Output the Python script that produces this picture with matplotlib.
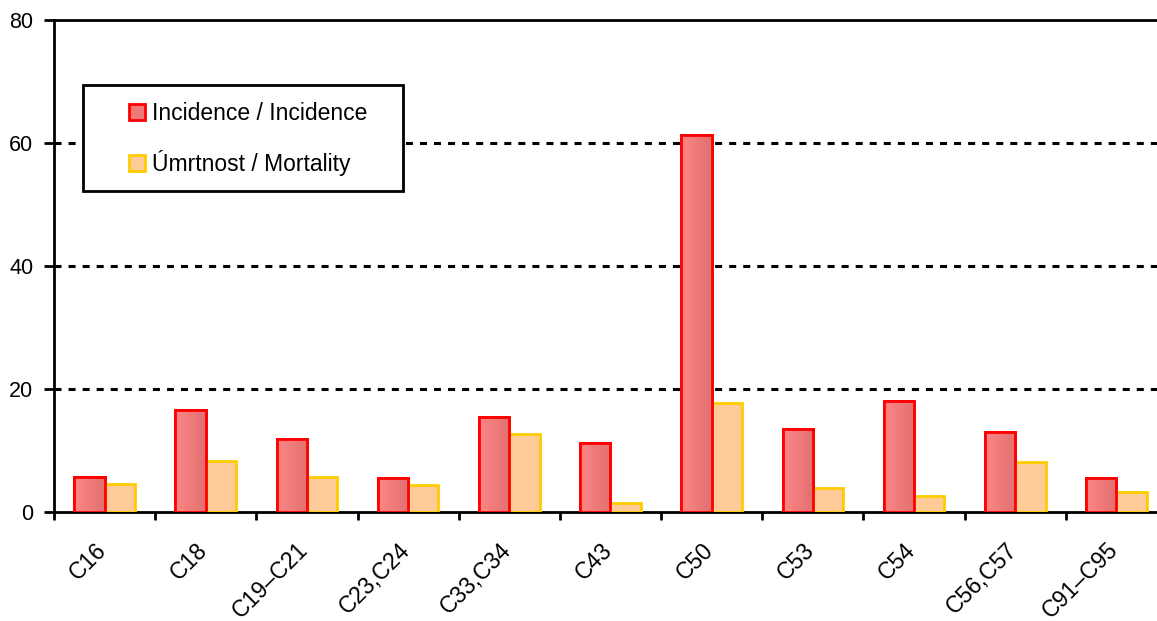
"""Incidence vs mortality bar chart."""

import matplotlib.pyplot as plt
import numpy as np
from matplotlib.patches import Rectangle

plt.rcParams["font.family"] = ["Liberation Sans", "DejaVu Sans"]

categories = ["C16", "C18", "C19–C21", "C23,C24", "C33,C34", "C43",
              "C50", "C53", "C54", "C56,C57", "C91–C95"]
incidence = [5.7, 16.6, 11.9, 5.5, 15.4, 11.3, 61.3, 13.5, 18.0, 13.0, 5.6]
mortality = [4.5, 8.3, 5.7, 4.4, 12.7, 1.4, 17.7, 3.85, 2.65, 8.2, 3.3]
labels = ["Incidence / Incidence", "Úmrtnost / Mortality"]

W, H = 1157, 621
fig = plt.figure(figsize=(W / 100, H / 100), dpi=100)
ax = fig.add_axes([54 / W, 1 - 512 / H, 1113 / W, 492 / H])

x = np.arange(len(categories))
bw = 0.3
red_bars = ax.bar(x - bw / 2, incidence, bw, color="#f07a7a", edgecolor="#ff0000",
                  linewidth=2, zorder=3, label=labels[0])
ax.bar(x + bw / 2, mortality, bw, color="#ffcc99", edgecolor="#ffcc00",
       linewidth=2, zorder=3, label=labels[1])

# horizontal gradient inside the red bars
grad = np.linspace(0, 1, 64).reshape(1, -1)
cmap = plt.matplotlib.colors.LinearSegmentedColormap.from_list(
    "redgrad", ["#ff8585", "#e07070"])
for b in red_bars:
    im = ax.imshow(grad, cmap=cmap, aspect="auto", zorder=3.1,
                   extent=[b.get_x(), b.get_x() + b.get_width(), 0, b.get_height()])
    im.set_clip_path(b)
    edge = Rectangle((b.get_x(), 0), b.get_width(), b.get_height(), fill=False,
                     edgecolor="#ff0000", linewidth=2, zorder=3.2)
    ax.add_patch(edge)

ax.set_xlim(-0.5, len(categories) - 0.5)
ax.set_ylim(0, 80)

for yv in [20, 40, 60]:
    ax.axhline(yv, color="black", linewidth=2.2, linestyle=(0, (2.3, 2.3)), zorder=1)

ax.set_yticks([0, 20, 40, 60, 80])
ax.tick_params(axis="y", direction="out", length=7, width=2, labelsize=15.5, pad=8)

ax.set_xticks(np.arange(len(categories) + 1) - 0.5)
ax.set_xticklabels([])
ax.tick_params(axis="x", which="major", direction="out", length=6, width=2)
ax.set_xticks(x - 0.1, minor=True)
ax.set_xticklabels(categories, minor=True, rotation=45, ha="right", va="top",
                   rotation_mode="anchor", fontsize=16.5)
ax.tick_params(axis="x", which="minor", length=0, pad=19)

for side in ["left", "bottom", "top"]:
    ax.spines[side].set_linewidth(2)
ax.spines["right"].set_visible(False)

# legend box
box = Rectangle((83 / W, 1 - 191 / H), 320 / W, 106 / H, transform=fig.transFigure,
                facecolor="white", edgecolor="black", linewidth=2, zorder=4)
fig.add_artist(box)
leg = fig.legend(loc="upper left", bbox_to_anchor=(129 / W, 1 - 102 / H),
                 frameon=False, fontsize=16.5, handlelength=0.7, handleheight=0.7,
                 handletextpad=0.3, labelspacing=1.1, borderaxespad=0,
                 borderpad=0)
leg.set_zorder(5)

fig.savefig("out.png", dpi=100)
